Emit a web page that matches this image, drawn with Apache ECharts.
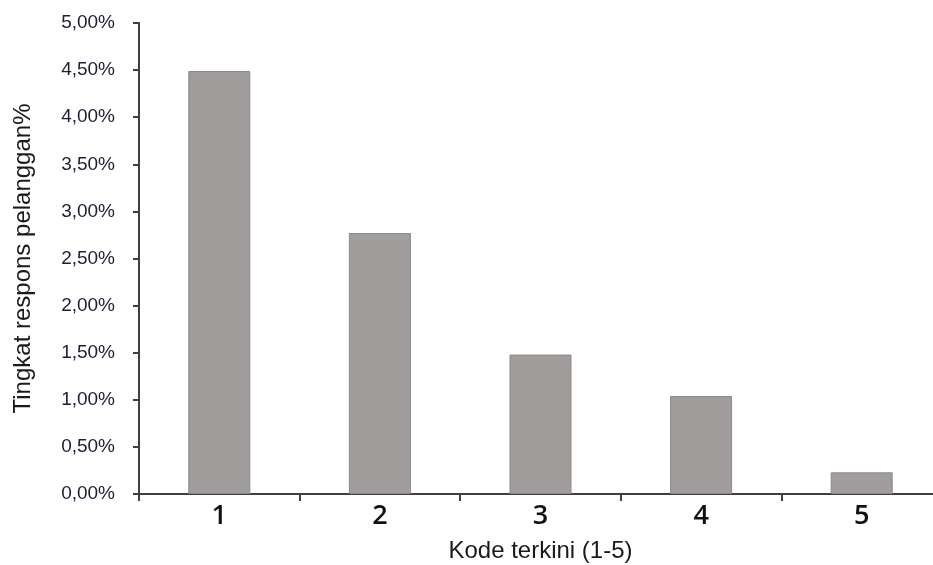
<!DOCTYPE html>
<html>
<head>
<meta charset="utf-8">
<script src="https://cdn.jsdelivr.net/npm/echarts@6/dist/echarts.min.js"></script>
<style>
  html, body { margin: 0; padding: 0; background: #ffffff; }
  #chart { width: 933px; height: 565px; }
</style>
</head>
<body>
<div id="chart"></div>
<script>
// Response rate by recency code
const categories = ['1', '2', '3', '4', '5'];
const responseRates = [4.49, 2.77, 1.48, 1.04, 0.23];
const yTicks = { min: 0, max: 5, interval: 0.5 };

const xAxisTitle = 'Kode terkini (1-5)';
const yAxisTitle = 'Tingkat respons pelanggan%';

const chart = echarts.init(document.getElementById('chart'), null, { renderer: 'canvas' });

chart.setOption({
  animation: false,
  backgroundColor: '#ffffff',
  // the plot area runs a little past the right edge of the canvas
  grid: { left: 139, top: 23, width: 803, bottom: 71, containLabel: false, outerBoundsMode: 'none' },
  xAxis: {
    type: 'category',
    data: categories,
    name: xAxisTitle,
    nameLocation: 'middle',
    nameGap: 45,
    nameTextStyle: { fontFamily: 'Liberation Sans, Arial', fontSize: 24, color: '#1a1a1a' },
    axisLine: { lineStyle: { color: '#3c3f46', width: 2 } },
    axisTick: { show: true, alignWithLabel: false, length: 7, lineStyle: { color: '#3c3f46', width: 2 } },
    axisLabel: { fontFamily: 'Open Sans', fontSize: 27, fontWeight: 600, color: '#111111', margin: 9 },
    splitLine: { show: false }
  },
  yAxis: {
    type: 'value',
    min: yTicks.min,
    max: yTicks.max,
    interval: yTicks.interval,
    name: yAxisTitle,
    nameLocation: 'middle',
    nameGap: 104,
    nameRotate: 90,
    nameTextStyle: { fontFamily: 'Liberation Sans, Arial', fontSize: 24, color: '#1a1a1a' },
    axisLine: { show: true, lineStyle: { color: '#3c3f46', width: 2 } },
    axisTick: { show: true, length: 6, lineStyle: { color: '#3c3f46', width: 2 } },
    axisLabel: {
      fontFamily: 'Liberation Sans, Arial',
      fontSize: 19,
      color: '#1d1d36',
      margin: 24,
      formatter: v => v.toFixed(2).replace('.', ',') + '%'
    },
    splitLine: { show: false }
  },
  series: [{
    type: 'bar',
    data: responseRates,
    barWidth: 62,
    itemStyle: { color: '#a19d9c', borderColor: '#8b8887', borderWidth: 1 }
  }]
});
</script>
</body>
</html>
